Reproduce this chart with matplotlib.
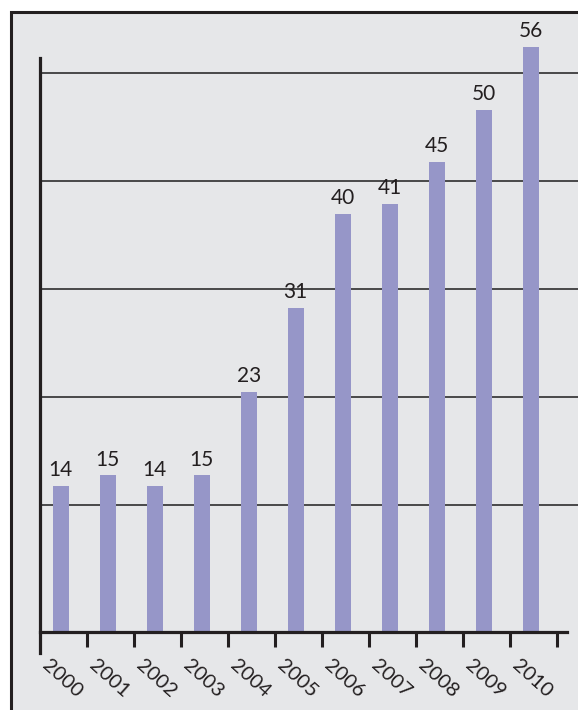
import matplotlib.pyplot as plt
from matplotlib.patches import Rectangle
import numpy as np

# data
years = ["2000", "2001", "2002", "2003", "2004", "2005",
         "2006", "2007", "2008", "2009", "2010"]
values = [14, 15, 14, 15, 23, 31, 40, 41, 45, 50, 56]
grid_levels = [12.15, 22.5, 32.8, 43.2, 53.5]

# colors
bg = "#e6e7e9"
ink = "#231f20"
bar_color = "#9696c8"

plt.rcParams["font.family"] = ["Lato", "DejaVu Sans"]

W, H = 578, 710
fig = plt.figure(figsize=(W / 100, H / 100), dpi=100, facecolor="white")

# grey panel with a dark border (runs off the right and bottom edges)
fig.add_artist(Rectangle((11 / W, -0.1), 1.2, 1 - 12 / H + 0.1,
                         transform=fig.transFigure, facecolor=bg,
                         edgecolor=ink, linewidth=2.2, zorder=0))

# axes placement: zero line at y=632px
px_unit = 10.45
slot = 47.0
ax_top_px, ax_bot_px = 20, 653
ax = fig.add_axes([40 / W, (H - ax_bot_px) / H, (W - 40) / W, (ax_bot_px - ax_top_px) / H])
ax.set_facecolor("none")
ax.set_ylim(-(ax_bot_px - 632) / px_unit, (632 - ax_top_px) / px_unit)
ax.set_xlim(-0.5, -0.5 + (W - 40) / slot)

x = np.arange(len(years))
bar_x = x - 0.06

for g in grid_levels:
    ax.axhline(g, color="#2e2e2e", linewidth=1.2, zorder=1)

ax.bar(bar_x, values, width=0.34, color=bar_color, zorder=2)

for xi, v in zip(bar_x, values):
    ax.annotate(str(v), (xi, v), xytext=(0, 7), textcoords="offset points",
                ha="center", va="baseline", fontsize=15, color=ink)

# spines
for s in ["top", "right"]:
    ax.spines[s].set_visible(False)
ax.spines["left"].set_linewidth(2.3)
ax.spines["left"].set_color(ink)
ax.spines["left"].set_bounds(ax.get_ylim()[0], (632 - 58) / px_unit)
ax.spines["bottom"].set_position(("data", 0))
ax.spines["bottom"].set_linewidth(2.3)
ax.spines["bottom"].set_color(ink)
ax.spines["bottom"].set_bounds(-0.5, (567 - 40) / slot - 0.5)
ax.spines["bottom"].set_zorder(3)
ax.spines["left"].set_zorder(3)

ax.set_yticks([])
ax.set_xticks(x + 0.5)
ax.set_xticklabels([])
ax.tick_params(axis="x", direction="out", length=11, width=2.2, color=ink)

# rotated year labels
for xi, yr in zip(x, years):
    ax.text(xi - 0.27, -(657 - 632) / px_unit, yr, rotation=-42,
            rotation_mode="anchor", ha="left", va="top",
            fontsize=14.5, color=ink)

fig.savefig("out.png", dpi=100)
